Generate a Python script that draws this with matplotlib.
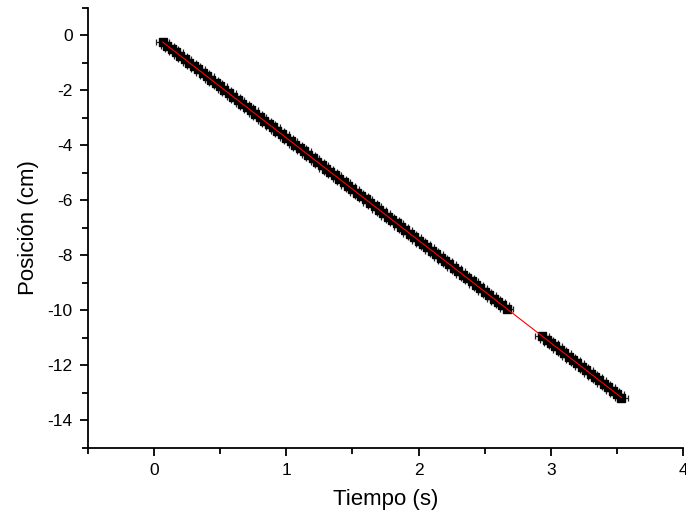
import numpy as np
import matplotlib
matplotlib.use("Agg")
import matplotlib.pyplot as plt
from matplotlib.ticker import MultipleLocator

plt.rcParams['font.family'] = ['Liberation Sans', 'DejaVu Sans']
plt.rcParams['axes.unicode_minus'] = False

# Datos medidos (tiempo en s, posición en cm)
tiempo = [0.067, 0.100, 0.133, 0.167, 0.200, 0.233, 0.267, 0.300, 0.333, 0.367,
          0.400, 0.433, 0.467, 0.500, 0.533, 0.567, 0.600, 0.633, 0.667, 0.700,
          0.733, 0.767, 0.800, 0.833, 0.867, 0.900, 0.933, 0.967, 1.000, 1.033,
          1.067, 1.100, 1.133, 1.167, 1.200, 1.233, 1.267, 1.300, 1.333, 1.367,
          1.400, 1.433, 1.467, 1.500, 1.533, 1.567, 1.600, 1.633, 1.667, 1.700,
          1.733, 1.767, 1.800, 1.833, 1.867, 1.900, 1.933, 1.967, 2.000, 2.033,
          2.067, 2.100, 2.133, 2.167, 2.200, 2.233, 2.267, 2.300, 2.333, 2.367,
          2.400, 2.433, 2.467, 2.500, 2.533, 2.567, 2.600, 2.633, 2.667,
          2.933, 2.967, 3.000, 3.033, 3.067, 3.100, 3.133, 3.167, 3.200, 3.233,
          3.267, 3.300, 3.333, 3.367, 3.400, 3.433, 3.467, 3.500, 3.533]
posicion = [-0.25, -0.37, -0.50, -0.62, -0.74, -0.87, -0.99, -1.12, -1.24, -1.37,
            -1.49, -1.61, -1.74, -1.86, -1.99, -2.11, -2.24, -2.36, -2.48, -2.61,
            -2.73, -2.86, -2.98, -3.11, -3.23, -3.35, -3.48, -3.60, -3.73, -3.85,
            -3.98, -4.10, -4.22, -4.35, -4.47, -4.60, -4.72, -4.85, -4.97, -5.09,
            -5.22, -5.34, -5.47, -5.59, -5.72, -5.84, -5.96, -6.09, -6.21, -6.34,
            -6.46, -6.59, -6.71, -6.83, -6.96, -7.08, -7.21, -7.33, -7.46, -7.58,
            -7.70, -7.83, -7.95, -8.08, -8.20, -8.33, -8.45, -8.57, -8.70, -8.82,
            -8.95, -9.07, -9.20, -9.32, -9.44, -9.57, -9.69, -9.82, -9.94,
            -10.94, -11.06, -11.18, -11.31, -11.43, -11.56, -11.68, -11.81, -11.93, -12.05,
            -12.18, -12.30, -12.43, -12.55, -12.68, -12.80, -12.92, -13.05, -13.17]
error_t = 0.05

t = np.array(tiempo)
x = np.array(posicion)

# Ajuste lineal
m, b = np.polyfit(t, x, 1)
t_fit = np.array([t.min(), t.max()])

fig = plt.figure(figsize=(6.86, 5.22), dpi=100)
ax = fig.add_axes([0.128, 0.142, 0.868, 0.843])

ax.errorbar(t, x, xerr=error_t, fmt='s', color='black', markersize=6,
            ecolor='#222222', elinewidth=0.9, capsize=2.5, capthick=0.9, zorder=2)
ax.plot(t_fit, m * t_fit + b, color='red', linewidth=0.8, zorder=3)

ax.set_xlim(-0.5, 4)
ax.set_ylim(-15, 1)
ax.xaxis.set_major_locator(MultipleLocator(1))
ax.xaxis.set_minor_locator(MultipleLocator(0.5))
ax.yaxis.set_major_locator(MultipleLocator(2))
ax.yaxis.set_minor_locator(MultipleLocator(1))

for s in ['top', 'right']:
    ax.spines[s].set_visible(False)
for s in ['left', 'bottom']:
    ax.spines[s].set_linewidth(1.3)

ax.tick_params(which='major', direction='out', length=6, width=1.3, labelsize=12.5, pad=5)
ax.tick_params(which='minor', direction='out', length=4, width=1.3)

ax.set_xlabel('Tiempo (s)', fontsize=16, labelpad=8)
ax.set_ylabel('Posición (cm)', fontsize=16, labelpad=6)

fig.savefig('out.png', dpi=100)
